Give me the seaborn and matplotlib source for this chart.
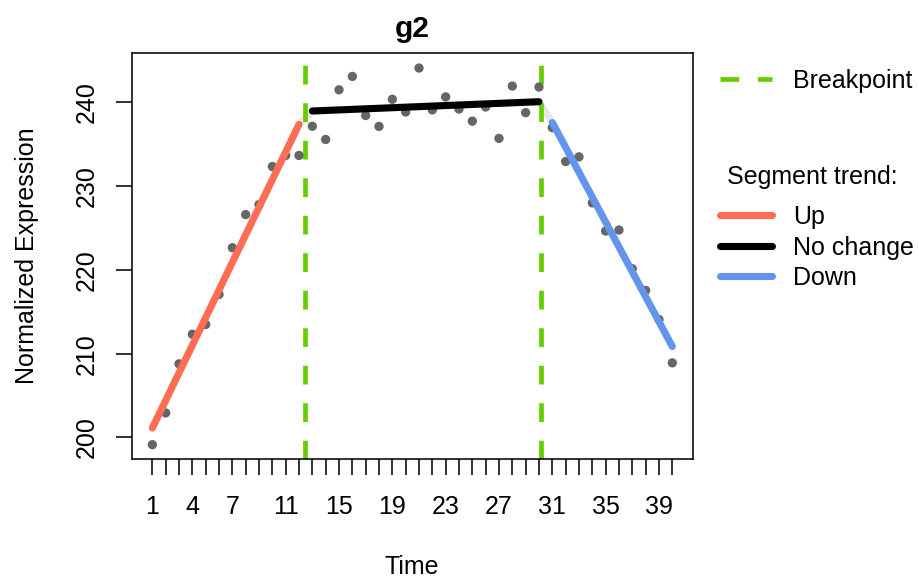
import numpy as np
import pandas as pd
import matplotlib
matplotlib.use("Agg")
import matplotlib.pyplot as plt
from matplotlib.lines import Line2D
import seaborn as sns

# ---------------- data ----------------
time = list(range(1, 41))
expression = [199.13, 202.92, 208.78, 212.32, 213.48, 217.07, 222.65, 226.60, 227.80, 232.34,
              233.66, 233.66,
              237.15, 235.57, 241.50, 243.10, 238.43, 237.13, 240.37, 238.85, 244.10, 239.10,
              240.65, 239.20, 237.76, 239.45, 235.70, 241.95, 238.77, 241.83,
              236.98, 232.94, 233.50, 228.00, 224.64, 224.76, 220.14, 217.55, 214.08, 208.90]

seg_labels = ["Up", "No change", "Down"]
seg_x_start = [1, 13, 31]
seg_x_end = [12, 30, 40]
seg_y_start = [201.12, 238.97, 237.60]
seg_y_end = [237.37, 240.08, 210.85]
breakpoints = [12.45, 30.13]

shown_xticks = [1, 4, 7, 11, 15, 19, 23, 27, 31, 35, 39]
yticks = [200, 210, 220, 230, 240]

title = "g2"
xlabel = "Time"
ylabel = "Normalized Expression"
legend_title = "Segment trend:"
bp_label = "Breakpoint"

# ---------------- style ----------------
seg_colors = {"Up": "#FF6E54", "No change": "#000000", "Down": "#6495ED"}
bp_color = "#66CD00"
pt_color = "#666666"
conn_color = "#E6E6E6"

sns.set_theme(style="white")
plt.rcParams["font.family"] = ["Liberation Sans", "DejaVu Sans"]
plt.rcParams["axes.edgecolor"] = "black"
plt.rcParams["axes.linewidth"] = 0.75
plt.rcParams["text.color"] = "black"
plt.rcParams["axes.labelcolor"] = "black"
plt.rcParams["xtick.color"] = "black"
plt.rcParams["ytick.color"] = "black"
plt.rcParams["axes.titlecolor"] = "black"

DPI = 150
fig, ax = plt.subplots(figsize=(919 / DPI, 578 / DPI), dpi=DPI)
plt.subplots_adjust(left=131.7 / 919, right=692.7 / 919,
                    bottom=1 - 459 / 578, top=1 - 53.3 / 578)

points = pd.DataFrame({"Time": time, "Expression": expression})

# connector (light grey) through all segment endpoints
conn_x, conn_y = [], []
for xs, xe, ys, ye in zip(seg_x_start, seg_x_end, seg_y_start, seg_y_end):
    conn_x += [xs, xe]
    conn_y += [ys, ye]
sns.lineplot(x=conn_x, y=conn_y, estimator=None, sort=False, color=conn_color,
             lw=3.4, ax=ax, solid_capstyle="round", zorder=1)

# breakpoints
for bp in breakpoints:
    ax.axvline(bp, color=bp_color, lw=2.25, ls=(0, (4, 4)), zorder=2)

# data points
sns.scatterplot(data=points, x="Time", y="Expression", color=pt_color, s=20,
                edgecolor="none", linewidth=0, ax=ax, zorder=3)

# colored segments
for lab, xs, xe, ys, ye in zip(seg_labels, seg_x_start, seg_x_end, seg_y_start, seg_y_end):
    sns.lineplot(x=[xs, xe], y=[ys, ye], estimator=None, sort=False,
                 color=seg_colors[lab], lw=3.4, ax=ax,
                 solid_capstyle="round", zorder=4)

ax.set_xlim(-0.55, 41.53)
ax.set_ylim(197.42, 245.86)
ax.set_xticks(time)
ax.set_xticklabels([str(t) if t in shown_xticks else "" for t in time])
ax.set_yticks(yticks)
ax.set_yticklabels([str(v) for v in yticks], rotation=90, va="center")
ax.tick_params(axis="x", length=7.7, width=0.75, color="black", labelsize=12, pad=9.8,
               direction="out", bottom=True)
ax.tick_params(axis="y", length=7.7, width=0.75, color="black", labelsize=12, pad=8,
               direction="out", left=True)
for sp in ax.spines.values():
    sp.set_visible(True)
    sp.set_color("black")
    sp.set_linewidth(0.75)

ax.set_title(title, fontsize=14.4, fontweight="bold", pad=7.6)
ax.set_xlabel(xlabel, fontsize=12, labelpad=17)
ax.set_ylabel(ylabel, fontsize=12, labelpad=17.4)

# legends
h_bp = [Line2D([], [], color=bp_color, lw=2.25, ls=(0, (4, 4)))]
fig.legend(handles=h_bp, labels=[bp_label], loc="upper left",
           bbox_to_anchor=(720 / 919, 1 - 69 / 578), frameon=False,
           borderpad=0, borderaxespad=0, handlelength=2.07, handletextpad=0.85,
           fontsize=12)

fig.text(726.7 / 919, 1 - 177 / 578, legend_title, ha="left", va="center", fontsize=12)
h_seg = [Line2D([], [], color=seg_colors[l], lw=3.4, solid_capstyle="round") for l in seg_labels]
fig.legend(handles=h_seg, labels=seg_labels, loc="upper left",
           bbox_to_anchor=(720 / 919, 1 - 205 / 578), frameon=False,
           borderpad=0, borderaxespad=0, handlelength=2.07, handletextpad=0.85,
           labelspacing=0.26, fontsize=12)

fig.savefig("out.png", dpi=DPI)
